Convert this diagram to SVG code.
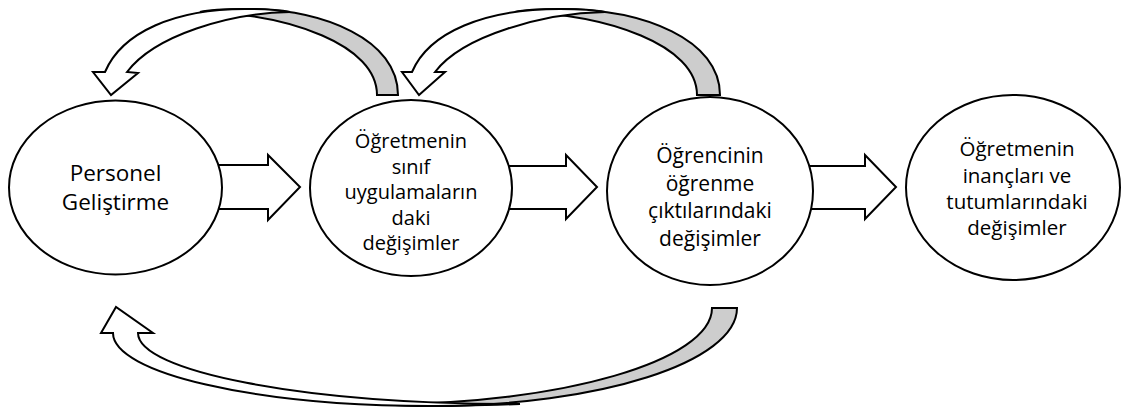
<svg xmlns="http://www.w3.org/2000/svg" width="1122" height="410" viewBox="0 0 1122 410">
<style>
.node ellipse{fill:#fff;stroke:#000;stroke-width:2}
.blk{stroke:#000;stroke-width:2;stroke-linejoin:miter}
.wht{fill:#fff}
.gry{fill:#cdcdcd}
text{font-family:"Open Sans","Noto Sans","DejaVu Sans",sans-serif;fill:#000;text-anchor:middle}
.t1{font-size:22.5px}
.t2{font-size:20px}
.t3{font-size:21px}
.t4{font-size:20.5px}
</style>
<rect width="1122" height="410" fill="#fff"/>
<g id="connectors">
  <polygon class="blk wht" points="195,165 268,165 268,155 300,187 268,220 268,209 195,209"/>
  <polygon class="blk wht" points="490,166 566,166 566,155 597,187 566,219 566,209 490,209"/>
  <polygon class="blk wht" points="790,166 865,166 865,155 896,187 865,219 865,209 790,209"/>
  <g id="loop-top-1">
    <path class="blk gry" d="M398,95 C398,40 325,9 245,9 C222,9 208,10 200,12 C290,14 377,45 377,95 Z"/>
    <path class="blk wht" d="M105,72 C122,32 175,9 245,9 C265,9 280,10 290,12 C230,13 155,35 127,72 L138,73 L111,95 L93,72 Z"/>
  </g>
  <g id="loop-top-2">
    <path class="blk gry" d="M720,95 C720,40 645,9 560,9 C537,9 523,10 515,12 C608,14 697,45 697,95 Z"/>
    <path class="blk wht" d="M412,72 C429,32 485,9 560,9 C580,9 595,10 605,12 C545,13 463,35 435,72 L445,72 L419,95 L402,72 Z"/>
  </g>
  <g id="loop-bottom">
    <path class="blk gry" d="M737,308 C737,362 600,406 430,406 C410,406 395,405 385,404 C560,404 712,361 712,308 Z"/>
    <path class="blk wht" d="M113,333 C113,373 255,406 430,406 C460,406 490,405 520,404 C300,404 138,371 138,333 L153,333 L116,307 L101,333 Z"/>
  </g>
</g>
<g id="node-1" class="node">
  <ellipse cx="115.5" cy="187.5" rx="106.5" ry="87"/>
  <text class="t1" x="115.5" y="181">Personel</text>
  <text class="t1" x="115.5" y="210">Geliştirme</text>
</g>
<g id="node-2" class="node">
  <ellipse cx="411" cy="188" rx="101" ry="88"/>
  <text class="t2" x="411" y="148">Öğretmenin</text>
  <text class="t2" x="411" y="173.5">sınıf</text>
  <text class="t2" x="411" y="199">uygulamaların</text>
  <text class="t2" x="411" y="224.5">daki</text>
  <text class="t2" x="411" y="250">değişimler</text>
</g>
<g id="node-3" class="node">
  <ellipse cx="710" cy="191" rx="103" ry="94"/>
  <text class="t3" x="710" y="163">Öğrencinin</text>
  <text class="t3" x="710" y="190.5">öğrenme</text>
  <text class="t3" x="710" y="218">çıktılarındaki</text>
  <text class="t3" x="710" y="245.5">değişimler</text>
</g>
<g id="node-4" class="node">
  <ellipse cx="1013" cy="187.5" rx="107" ry="92.5"/>
  <text class="t4" x="1017" y="156">Öğretmenin</text>
  <text class="t4" x="1017" y="183">inançları ve</text>
  <text class="t4" x="1017" y="209">tutumlarındaki</text>
  <text class="t4" x="1017" y="235">değişimler</text>
</g>
</svg>
